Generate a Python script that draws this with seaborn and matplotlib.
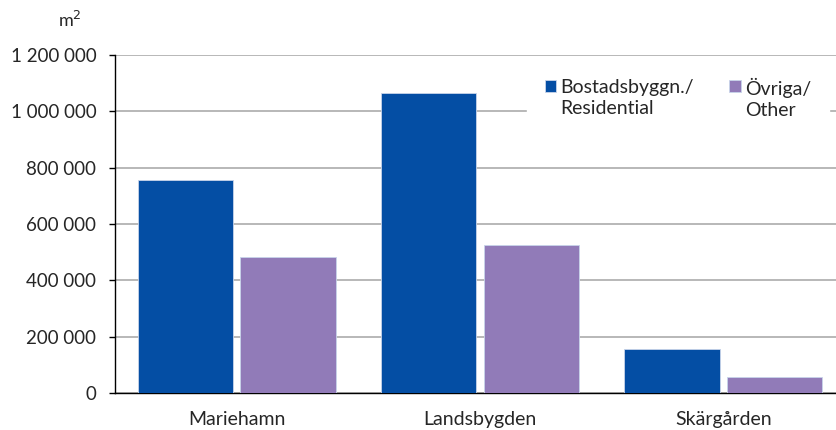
import seaborn as sns
import pandas as pd
import matplotlib.pyplot as plt
from matplotlib.ticker import FuncFormatter
from matplotlib.patches import Rectangle
from matplotlib.legend_handler import HandlerPatch

regions = ['Mariehamn', 'Landsbygden', 'Skärgården']
residential = [756000, 1064000, 155000]
other = [482000, 527000, 56000]
series = ['Bostadsbyggn./\nResidential', 'Övriga/\nOther']
colors = ['#044EA4', '#917BB8']

df = pd.DataFrame({
    'region': regions * 2,
    'value': residential + other,
    'type': [series[0]] * 3 + [series[1]] * 3,
})

sns.set_theme(style='white')
plt.rcParams['font.family'] = ['Lato', 'DejaVu Sans']

fig = plt.figure(figsize=(8.37, 4.30), dpi=100)
ax = fig.add_axes([0.1374, 0.086, 0.872, 0.786])

sns.barplot(data=df, x='region', y='value', hue='type', palette=colors,
            saturation=1, width=0.844, gap=0.07, ax=ax, edgecolor='#C8D4EA',
            linewidth=0.6, zorder=3)

ax.set_ylim(0, 1200000)
ax.set_xlim(-0.5, 2.5)
ax.set_yticks(range(0, 1200001, 200000))
ax.yaxis.set_major_formatter(FuncFormatter(lambda v, p: f'{int(v):,}'.replace(',', ' ')))
ax.grid(axis='y', color='#ABABAB', linewidth=1.2, zorder=0)
ax.set_axisbelow(True)
for s in ['top', 'right']:
    ax.spines[s].set_visible(False)
for s in ['left', 'bottom']:
    ax.spines[s].set_color('black')
    ax.spines[s].set_linewidth(1.0)
ax.tick_params(axis='y', left=True, length=4.5, width=1, color='black',
               labelsize=13.5, pad=9)
ax.tick_params(axis='x', bottom=False, labelsize=14, pad=7)
ax.set_xlabel('')
ax.set_ylabel('')


# legend squares sit beside the first line of each two-line label
def top_square(legend, orig_handle, xdescent, ydescent, width, height, fontsize):
    return Rectangle((-xdescent, -ydescent + 0.62 * fontsize), width, height)


handles, labels = ax.get_legend_handles_labels()
leg = ax.legend(handles, labels, loc='upper left', bbox_to_anchor=(527 / 837, 1 - 60 / 430),
                bbox_transform=fig.transFigure, ncol=2, frameon=True, fontsize=14,
                handlelength=0.58, handleheight=0.58, handletextpad=0.25,
                columnspacing=1.8, borderpad=0.9, borderaxespad=0, fancybox=False,
                handler_map={h: HandlerPatch(patch_func=top_square) for h in handles})
leg.get_frame().set_edgecolor('white')
leg.get_frame().set_facecolor('white')
leg.get_frame().set_alpha(1)
leg.set_zorder(5)
for t in leg.get_texts():
    t.set_linespacing(1.3)

fig.text(0.084, 0.953, 'm$^2$', fontsize=13, ha='center', va='center')

fig.savefig('out.png', dpi=100)
